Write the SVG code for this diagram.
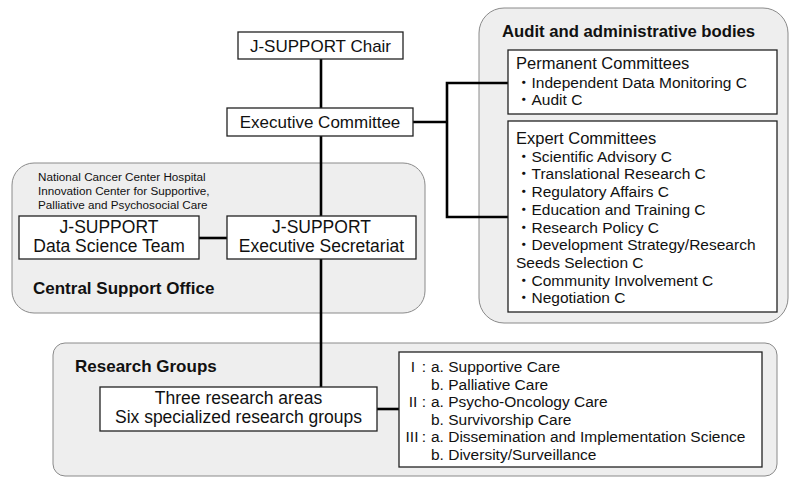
<svg xmlns="http://www.w3.org/2000/svg" width="800" height="485" viewBox="0 0 800 485">
<style>
text{font-family:"Liberation Sans","Noto Sans CJK JP",Arial,sans-serif;fill:#111}
.grp{fill:#eeeeee;stroke:#8a8a8a;stroke-width:1}
.box{fill:#ffffff;stroke:#222;stroke-width:1.3}
.m{font-size:17.5px;text-anchor:middle}
.t{font-size:17px;text-anchor:middle}
.s{font-size:15.5px}
.h{font-size:17px;font-weight:bold}
.n{font-size:11.7px}
.c{fill:none;stroke:#000;stroke-width:2.6}
</style>
<rect width="800" height="485" fill="#ffffff"/>
<g id="central-support-office">
<rect class="grp" x="12" y="163" width="413" height="150" rx="22"/>
<text class="n" x="38" y="181">National Cancer Center Hospital</text>
<text class="n" x="38" y="195">Innovation Center for Supportive,</text>
<text class="n" x="38" y="209">Palliative and Psychosocial Care</text>
<text class="h" x="33" y="294">Central Support Office</text>
</g>
<g id="audit-bodies">
<rect class="grp" x="479" y="8" width="309" height="315" rx="25"/>
<text class="h" x="502" y="37" style="font-size:16.7px">Audit and administrative bodies</text>
</g>
<g id="research-groups">
<rect class="grp" x="53" y="343" width="724" height="133" rx="12"/>
<text class="h" x="75" y="372">Research Groups</text>
</g>
<g id="connectors">
<line class="c" x1="321" y1="59" x2="321" y2="108"/>
<line class="c" x1="321" y1="136" x2="321" y2="216"/>
<line class="c" x1="321" y1="259" x2="321" y2="387"/>
<line class="c" x1="199" y1="238" x2="227" y2="238"/>
<line class="c" x1="413" y1="122" x2="447" y2="122"/>
<polyline class="c" points="508,83 447,83 447,217 508,217"/>
<line class="c" x1="377" y1="409" x2="399" y2="409"/>
</g>
<g id="chair">
<rect class="box" x="238" y="32" width="165" height="27"/>
<text class="t" x="320.5" y="51.5">J-SUPPORT Chair</text>
</g>
<g id="executive-committee">
<rect class="box" x="227" y="108" width="186" height="28"/>
<text class="t" x="320" y="128">Executive Committee</text>
</g>
<g id="data-science-team">
<rect class="box" x="19" y="216" width="180" height="43"/>
<text class="m" x="109" y="233">J-SUPPORT</text>
<text class="m" x="109" y="252">Data Science Team</text>
</g>
<g id="executive-secretariat">
<rect class="box" x="227" y="216" width="189" height="43"/>
<text class="m" x="321.5" y="233">J-SUPPORT</text>
<text class="m" x="321.5" y="252">Executive Secretariat</text>
</g>
<g id="permanent-committees">
<rect class="box" x="508" y="50" width="269" height="64"/>
<text class="s" x="516" y="69" style="font-size:16.5px">Permanent Committees</text>
<text class="s" x="516" y="88">・Independent Data Monitoring C</text>
<text class="s" x="516" y="105">・Audit C</text>
</g>
<g id="expert-committees">
<rect class="box" x="508" y="121" width="269" height="191"/>
<text class="s" x="516" y="144" style="font-size:16.5px">Expert Committees</text>
<text class="s" x="516" y="161.7">・Scientific Advisory C</text>
<text class="s" x="516" y="179.4">・Translational Research C</text>
<text class="s" x="516" y="197.1">・Regulatory Affairs C</text>
<text class="s" x="516" y="214.8">・Education and Training C</text>
<text class="s" x="516" y="232.5">・Research Policy C</text>
<text class="s" x="516" y="250.2">・Development Strategy/Research</text>
<text class="s" x="516" y="267.9">Seeds Selection C</text>
<text class="s" x="516" y="285.6">・Community Involvement C</text>
<text class="s" x="516" y="303.3">・Negotiation C</text>
</g>
<g id="research-areas">
<rect class="box" x="100" y="387" width="277" height="44"/>
<text class="m" x="238.5" y="403.5">Three research areas</text>
<text class="m" x="238.5" y="422.5">Six specialized research groups</text>
</g>
<g id="research-group-list">
<rect class="box" x="399" y="352" width="363" height="115"/>
<text class="s" x="413" y="372" text-anchor="middle">I</text>
<text class="s" x="424" y="372" text-anchor="middle">:</text>
<text class="s" x="431" y="372">a. Supportive Care</text>
<text class="s" x="431" y="389.5">b. Palliative Care</text>
<text class="s" x="413" y="407" text-anchor="middle">II</text>
<text class="s" x="424" y="407" text-anchor="middle">:</text>
<text class="s" x="431" y="407">a. Psycho-Oncology Care</text>
<text class="s" x="431" y="424.5">b. Survivorship Care</text>
<text class="s" x="412" y="442" text-anchor="middle">III</text>
<text class="s" x="424" y="442" text-anchor="middle">:</text>
<text class="s" x="431" y="442">a. Dissemination and Implementation Science</text>
<text class="s" x="431" y="459.5">b. Diversity/Surveillance</text>
</g>
</svg>
